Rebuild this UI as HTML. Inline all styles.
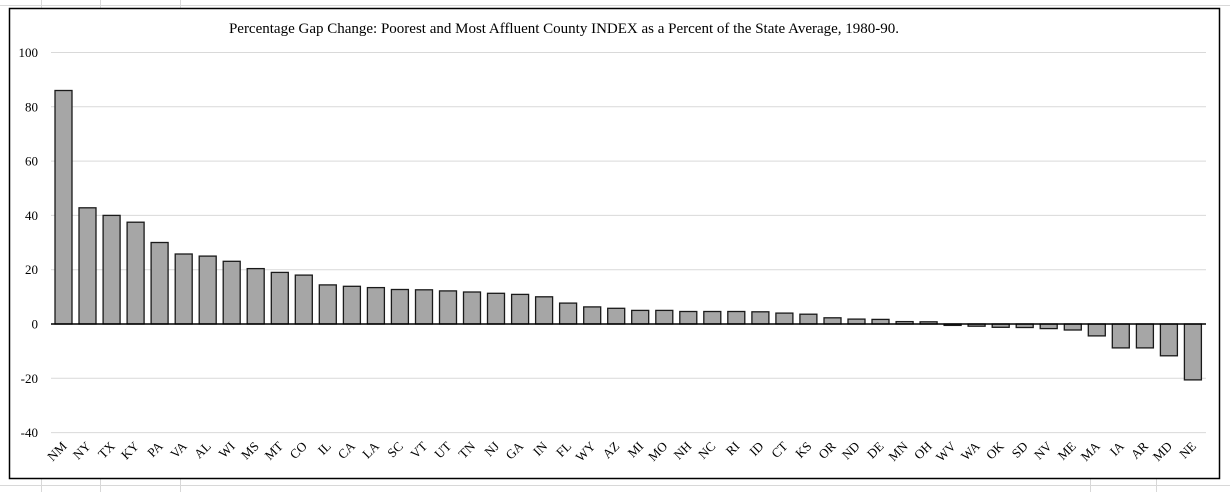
<!DOCTYPE html>
<html><head><meta charset="utf-8"><style>
html,body{margin:0;padding:0;background:#fff;}
svg{display:block;font-family:"Liberation Serif",serif;}
</style></head><body>
<svg width="1230" height="492" viewBox="0 0 1230 492" xmlns="http://www.w3.org/2000/svg">
<g stroke="#d8d8d8" stroke-width="1">
<line x1="0" y1="5.5" x2="1230" y2="5.5"/>
<line x1="0" y1="485.5" x2="1230" y2="485.5"/>
<line x1="41.5" y1="0" x2="41.5" y2="8"/><line x1="100.5" y1="0" x2="100.5" y2="8"/><line x1="180.5" y1="0" x2="180.5" y2="8"/>
<line x1="41.5" y1="479" x2="41.5" y2="492"/><line x1="100.5" y1="479" x2="100.5" y2="492"/><line x1="180.5" y1="479" x2="180.5" y2="492"/><line x1="1090.5" y1="479" x2="1090.5" y2="492"/><line x1="1156.5" y1="479" x2="1156.5" y2="492"/>
</g>
<rect x="9.5" y="8.5" width="1210" height="470" fill="#fff" stroke="#000" stroke-width="1.5"/>
<text x="564" y="33" font-size="15" text-anchor="middle">Percentage Gap Change: Poorest and Most Affluent County INDEX as a Percent of the State Average, 1980-90.</text>
<g stroke="#d9d9d9" stroke-width="1">
<line x1="51" x2="1206" y1="52.5" y2="52.5"/><line x1="51" x2="1206" y1="106.8" y2="106.8"/><line x1="51" x2="1206" y1="161.1" y2="161.1"/><line x1="51" x2="1206" y1="215.4" y2="215.4"/><line x1="51" x2="1206" y1="269.7" y2="269.7"/><line x1="51" x2="1206" y1="378.3" y2="378.3"/><line x1="51" x2="1206" y1="432.6" y2="432.6"/>
</g>
<g font-size="13" text-anchor="end">
<text x="38" y="57">100</text><text x="38" y="111.3">80</text><text x="38" y="165.6">60</text><text x="38" y="219.9">40</text><text x="38" y="274.2">20</text><text x="38" y="328.5">0</text><text x="38" y="382.8">-20</text><text x="38" y="437.1">-40</text>
</g>
<g fill="#a6a6a6" stroke="#1a1a1a" stroke-width="1.3">
<rect x="55.0" y="90.5" width="17" height="233.5"/>
<rect x="79.0" y="207.8" width="17" height="116.2"/>
<rect x="103.1" y="215.4" width="17" height="108.6"/>
<rect x="127.1" y="222.2" width="17" height="101.8"/>
<rect x="151.1" y="242.5" width="17" height="81.5"/>
<rect x="175.2" y="254.0" width="17" height="70.0"/>
<rect x="199.2" y="256.1" width="17" height="67.9"/>
<rect x="223.2" y="261.3" width="17" height="62.7"/>
<rect x="247.2" y="268.6" width="17" height="55.4"/>
<rect x="271.3" y="272.4" width="17" height="51.6"/>
<rect x="295.3" y="275.1" width="17" height="48.9"/>
<rect x="319.3" y="284.9" width="17" height="39.1"/>
<rect x="343.4" y="286.3" width="17" height="37.7"/>
<rect x="367.4" y="287.6" width="17" height="36.4"/>
<rect x="391.4" y="289.5" width="17" height="34.5"/>
<rect x="415.5" y="289.8" width="17" height="34.2"/>
<rect x="439.5" y="290.9" width="17" height="33.1"/>
<rect x="463.5" y="292.0" width="17" height="32.0"/>
<rect x="487.5" y="293.3" width="17" height="30.7"/>
<rect x="511.6" y="294.4" width="17" height="29.6"/>
<rect x="535.6" y="296.8" width="17" height="27.2"/>
<rect x="559.6" y="303.1" width="17" height="20.9"/>
<rect x="583.7" y="306.9" width="17" height="17.1"/>
<rect x="607.7" y="308.3" width="17" height="15.7"/>
<rect x="631.7" y="310.4" width="17" height="13.6"/>
<rect x="655.8" y="310.4" width="17" height="13.6"/>
<rect x="679.8" y="311.5" width="17" height="12.5"/>
<rect x="703.8" y="311.5" width="17" height="12.5"/>
<rect x="727.8" y="311.5" width="17" height="12.5"/>
<rect x="751.9" y="311.8" width="17" height="12.2"/>
<rect x="775.9" y="313.1" width="17" height="10.9"/>
<rect x="799.9" y="314.2" width="17" height="9.8"/>
<rect x="824.0" y="317.8" width="17" height="6.2"/>
<rect x="848.0" y="319.1" width="17" height="4.9"/>
<rect x="872.0" y="319.4" width="17" height="4.6"/>
<rect x="896.1" y="321.6" width="17" height="2.4"/>
<rect x="920.1" y="321.8" width="17" height="2.2"/>
<rect x="944.1" y="324" width="17" height="1.4"/>
<rect x="968.1" y="324" width="17" height="2.2"/>
<rect x="992.2" y="324" width="17" height="3.3"/>
<rect x="1016.2" y="324" width="17" height="3.5"/>
<rect x="1040.2" y="324" width="17" height="4.6"/>
<rect x="1064.3" y="324" width="17" height="6.0"/>
<rect x="1088.3" y="324" width="17" height="11.9"/>
<rect x="1112.3" y="324" width="17" height="23.9"/>
<rect x="1136.4" y="324" width="17" height="23.9"/>
<rect x="1160.4" y="324" width="17" height="31.8"/>
<rect x="1184.4" y="324" width="17" height="55.9"/>
</g>
<line x1="51" y1="324" x2="1206" y2="324" stroke="#000" stroke-width="1.5"/>
<g font-size="13" text-anchor="end">
<text transform="translate(67.5,447) rotate(-45)">NM</text>
<text transform="translate(91.5,447) rotate(-45)">NY</text>
<text transform="translate(115.6,447) rotate(-45)">TX</text>
<text transform="translate(139.6,447) rotate(-45)">KY</text>
<text transform="translate(163.6,447) rotate(-45)">PA</text>
<text transform="translate(187.7,447) rotate(-45)">VA</text>
<text transform="translate(211.7,447) rotate(-45)">AL</text>
<text transform="translate(235.7,447) rotate(-45)">WI</text>
<text transform="translate(259.7,447) rotate(-45)">MS</text>
<text transform="translate(283.8,447) rotate(-45)">MT</text>
<text transform="translate(307.8,447) rotate(-45)">CO</text>
<text transform="translate(331.8,447) rotate(-45)">IL</text>
<text transform="translate(355.9,447) rotate(-45)">CA</text>
<text transform="translate(379.9,447) rotate(-45)">LA</text>
<text transform="translate(403.9,447) rotate(-45)">SC</text>
<text transform="translate(428.0,447) rotate(-45)">VT</text>
<text transform="translate(452.0,447) rotate(-45)">UT</text>
<text transform="translate(476.0,447) rotate(-45)">TN</text>
<text transform="translate(500.0,447) rotate(-45)">NJ</text>
<text transform="translate(524.1,447) rotate(-45)">GA</text>
<text transform="translate(548.1,447) rotate(-45)">IN</text>
<text transform="translate(572.1,447) rotate(-45)">FL</text>
<text transform="translate(596.2,447) rotate(-45)">WY</text>
<text transform="translate(620.2,447) rotate(-45)">AZ</text>
<text transform="translate(644.2,447) rotate(-45)">MI</text>
<text transform="translate(668.3,447) rotate(-45)">MO</text>
<text transform="translate(692.3,447) rotate(-45)">NH</text>
<text transform="translate(716.3,447) rotate(-45)">NC</text>
<text transform="translate(740.3,447) rotate(-45)">RI</text>
<text transform="translate(764.4,447) rotate(-45)">ID</text>
<text transform="translate(788.4,447) rotate(-45)">CT</text>
<text transform="translate(812.4,447) rotate(-45)">KS</text>
<text transform="translate(836.5,447) rotate(-45)">OR</text>
<text transform="translate(860.5,447) rotate(-45)">ND</text>
<text transform="translate(884.5,447) rotate(-45)">DE</text>
<text transform="translate(908.6,447) rotate(-45)">MN</text>
<text transform="translate(932.6,447) rotate(-45)">OH</text>
<text transform="translate(956.6,447) rotate(-45)">WV</text>
<text transform="translate(980.6,447) rotate(-45)">WA</text>
<text transform="translate(1004.7,447) rotate(-45)">OK</text>
<text transform="translate(1028.7,447) rotate(-45)">SD</text>
<text transform="translate(1052.7,447) rotate(-45)">NV</text>
<text transform="translate(1076.8,447) rotate(-45)">ME</text>
<text transform="translate(1100.8,447) rotate(-45)">MA</text>
<text transform="translate(1124.8,447) rotate(-45)">IA</text>
<text transform="translate(1148.9,447) rotate(-45)">AR</text>
<text transform="translate(1172.9,447) rotate(-45)">MD</text>
<text transform="translate(1196.9,447) rotate(-45)">NE</text>
</g>
</svg>
</body></html>
